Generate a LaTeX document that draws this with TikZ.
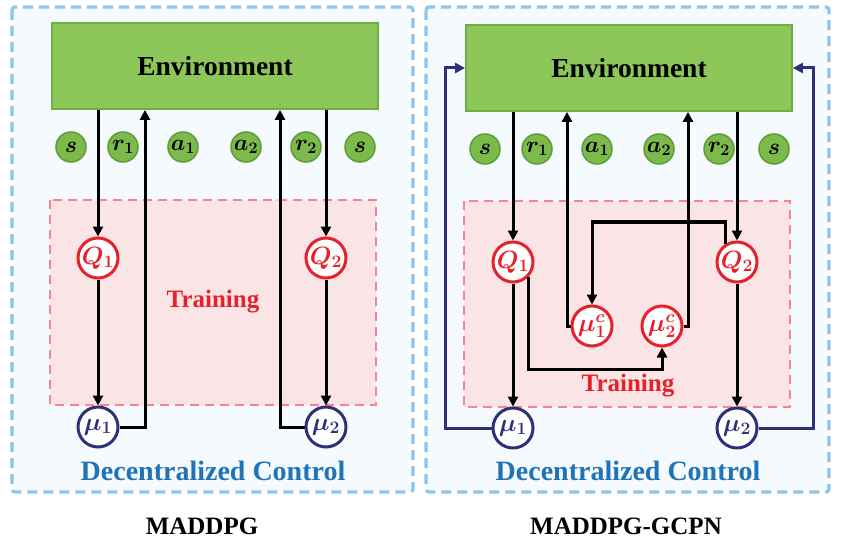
\RequirePackage{fix-cm}
\documentclass[tikz,border=0pt]{standalone}
\usepackage{fontspec}
\setmainfont{Liberation Serif}
\usepackage{bm}
\usetikzlibrary{arrows.meta}
\definecolor{panelblue}{HTML}{8EC5EA}
\definecolor{panelfill}{HTML}{F5FAFE}
\definecolor{envfill}{HTML}{8DC75A}
\definecolor{envdraw}{HTML}{6DAE45}
\definecolor{tokfill}{HTML}{7DBA4C}
\definecolor{tokdraw}{HTML}{5E9A36}
\definecolor{trainfill}{HTML}{FBE4E5}
\definecolor{traindraw}{HTML}{F2868C}
\definecolor{qred}{HTML}{E8202A}
\definecolor{navyc}{HTML}{2F3178}
\definecolor{ctrlblue}{HTML}{1F73B7}
\tikzset{
  panel/.style={draw=panelblue, fill=panelfill, line width=3.2pt, dash pattern=on 10pt off 6pt, rounded corners=3pt},
  trainbox/.style={draw=traindraw, fill=trainfill, line width=2.8pt, dash pattern=on 9pt off 6pt},
  envbox/.style={draw=envdraw, fill=envfill, line width=1.8pt, minimum width=326pt, minimum height=86pt, inner sep=0pt, font=\fontsize{27.5}{30}\selectfont\bfseries},
  token/.style={circle, draw=tokdraw, fill=tokfill, line width=1.5pt, minimum size=30pt, inner sep=0pt, font=\fontsize{23}{23}\selectfont},
  qnode/.style={circle, draw=qred, fill=white, line width=3pt, minimum size=40pt, inner sep=0pt, text=qred, font=\fontsize{25}{25}\selectfont},
  munode/.style={circle, draw=navyc, fill=white, line width=3pt, minimum size=40pt, inner sep=0pt, text=navyc, font=\fontsize{25}{25}\selectfont},
  flow/.style={black, line width=3pt, -{Triangle[length=10pt,width=10pt]}},
  navyflow/.style={navyc, line width=3pt, -{Triangle[length=10pt,width=10pt]}},
  trainlabel/.style={text=qred, font=\fontsize{25}{27}\selectfont\bfseries},
  ctrllabel/.style={text=ctrlblue, font=\fontsize{28}{30}\selectfont\bfseries},
  caption/.style={font=\fontsize{25}{27}\selectfont\bfseries}
}
\begin{document}
\begin{tikzpicture}[x=1pt, y=-1pt]
\useasboundingbox (0,0) rectangle (850,553);
% panels
\path[panel] (12,7) rectangle (413,492);
\path[panel] (426,7) rectangle (829,492);
\path[trainbox] (50,200) rectangle (376,405);
\path[trainbox] (464,201) rectangle (790,407);

% ---------- left: MADDPG ----------
\node[envbox] (envL) at (215,66) {Environment};
\node[token] (sL1) at (71,147) {$\bm{s}$};
\node[token] (r1L) at (123,147) {$\bm{r}_{\bm{1}}$};
\node[token] (a1L) at (183,147) {$\bm{a}_{\bm{1}}$};
\node[token] (a2L) at (246,147) {$\bm{a}_{\bm{2}}$};
\node[token] (r2L) at (306,147) {$\bm{r}_{\bm{2}}$};
\node[token] (sL2) at (360,147) {$\bm{s}$};
\node[qnode] (Q1L) at (98,258) {$\bm{Q}_{\bm{1}}$};
\node[qnode] (Q2L) at (326,258) {$\bm{Q}_{\bm{2}}$};
\node[munode] (mu1L) at (98,427) {$\bm{\mu}_{\bm{1}}$};
\node[munode] (mu2L) at (326,427) {$\bm{\mu}_{\bm{2}}$};
\node[trainlabel] (trL) at (213,302) {Training};
\node[ctrllabel] (dcL) at (213,471) {Decentralized Control};
\node[caption] (capL) at (202,526) {MADDPG};
\coordinate (c1L) at (145,0);
\coordinate (c2L) at (280,0);

\draw[flow] (Q1L |- envL.south) -- (Q1L);
\draw[flow] (Q2L |- envL.south) -- (Q2L);
\draw[flow] (Q1L) -- (mu1L);
\draw[flow] (Q2L) -- (mu2L);
\draw[flow] (mu1L) -- (mu1L -| c1L) -- (c1L |- envL.south);
\draw[flow] (mu2L) -- (mu2L -| c2L) -- (c2L |- envL.south);

% ---------- right: MADDPG-GCPN ----------
\node[envbox] (envR) at (629,68) {Environment};
\node[token] (sR1) at (485,149) {$\bm{s}$};
\node[token] (r1R) at (537,149) {$\bm{r}_{\bm{1}}$};
\node[token] (a1R) at (597,149) {$\bm{a}_{\bm{1}}$};
\node[token] (a2R) at (659,149) {$\bm{a}_{\bm{2}}$};
\node[token] (r2R) at (719,149) {$\bm{r}_{\bm{2}}$};
\node[token] (sR2) at (774,149) {$\bm{s}$};
\node[qnode] (Q1R) at (513,262) {$\bm{Q}_{\bm{1}}$};
\node[qnode] (Q2R) at (737,262) {$\bm{Q}_{\bm{2}}$};
\node[qnode] (mu1cR) at (592,326) {$\bm{\mu}^{\bm{c}}_{\bm{1}}$};
\node[qnode] (mu2cR) at (662,326) {$\bm{\mu}^{\bm{c}}_{\bm{2}}$};
\node[munode] (mu1R) at (513,428) {$\bm{\mu}_{\bm{1}}$};
\node[munode] (mu2R) at (737,428) {$\bm{\mu}_{\bm{2}}$};
\node[trainlabel] (trR) at (628,386) {Training};
\node[ctrllabel] (dcR) at (628,471) {Decentralized Control};
\node[caption] (capR) at (626,526) {MADDPG-GCPN};
\coordinate (c1R) at (567,0);
\coordinate (c2R) at (688,0);
\coordinate (k1) at (0,222);
\coordinate (k2) at (0,369);
\coordinate (n1) at (445,0);
\coordinate (n2) at (813,0);

\draw[flow] (Q1R |- envR.south) -- (Q1R);
\draw[flow] (Q2R |- envR.south) -- (Q2R);
\draw[flow] (Q1R) -- (mu1R);
\draw[flow] (Q2R) -- (mu2R);
\draw[flow] (mu1cR) -- (mu1cR -| c1R) -- (c1R |- envR.south);
\draw[flow] (mu2cR) -- (mu2cR -| c2R) -- (c2R |- envR.south);
\draw[flow] (Q2R.123) -- (Q2R.123 |- k1) -| (mu1cR);
\draw[flow] (Q1R.-43) -- (Q1R.-43 |- k2) -| (mu2cR);
\draw[navyflow] (mu1R) -- (mu1R -| n1) |- (envR.west);
\draw[navyflow] (mu2R) -- (mu2R -| n2) |- (envR.east);
\end{tikzpicture}
\end{document}
